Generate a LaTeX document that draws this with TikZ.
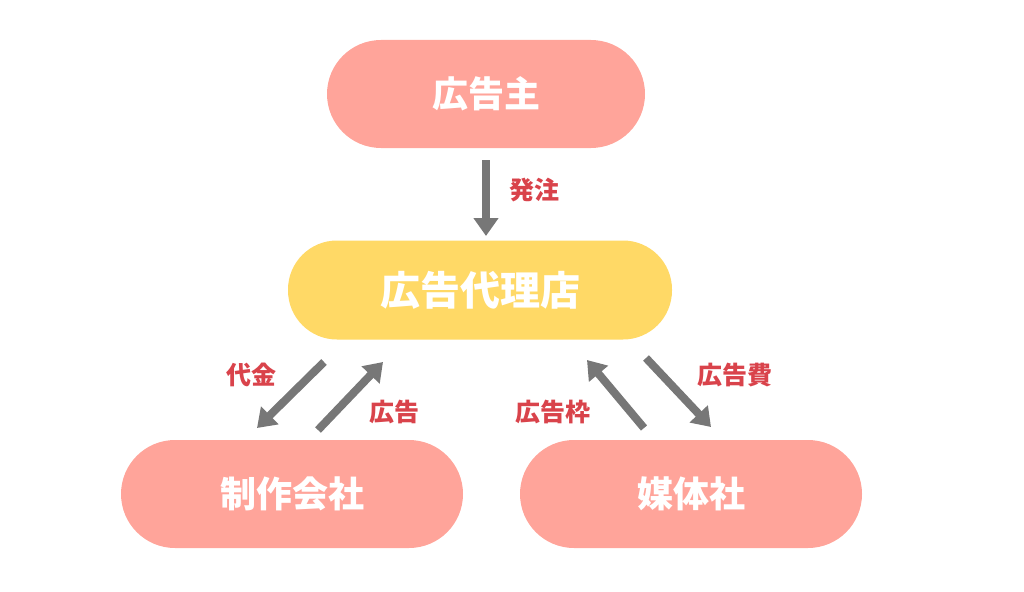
\documentclass[tikz,border=0pt]{standalone}
\usepackage{fontspec}
\setmainfont{Noto Sans CJK JP}
\usetikzlibrary{arrows.meta}
\definecolor{salmon}{HTML}{FFA49A}
\definecolor{gold}{HTML}{FFD966}
\definecolor{labelred}{HTML}{D9434B}
\definecolor{arrowgray}{HTML}{777777}

\begin{document}
\begin{tikzpicture}[x=1pt,y=-1pt]
\useasboundingbox (0,0) rectangle (1024,591);
\begin{scope}[every node/.style={fill=salmon,text=white,rounded corners=54pt,
              minimum height=108pt,font=\bfseries\fontsize{36}{36}\selectfont}]
    \node[minimum width=318pt] (client) at (486,94) {広告主};
    \node[minimum width=342pt] (prod) at (292,494) {制作会社};
    \node[minimum width=342pt] (media) at (691,494) {媒体社};
    \node[fill=gold,minimum width=384pt,minimum height=99pt,rounded corners=49pt,
          font=\bfseries\fontsize{40}{40}\selectfont] (agency) at (480,290) {広告代理店};
\end{scope}

\coordinate (o1) at (486,160);   \coordinate (o2) at (486,236);
\coordinate (p1) at (324,362);   \coordinate (p2) at (257,428);
\coordinate (a1) at (318,430);   \coordinate (a2) at (383,362);
\coordinate (f1) at (644,428);   \coordinate (f2) at (587,360);
\coordinate (c1) at (646,358);   \coordinate (c2) at (711,427);

\begin{scope}[every edge/.style={draw=arrowgray,line width=8pt,
              -{Triangle[width=24pt,length=18pt]}}]
    \path (o1) edge (o2);
    \path (p1) edge (p2);
    \path (a1) edge (a2);
    \path (f1) edge (f2);
    \path (c1) edge (c2);
\end{scope}

\begin{scope}[every node/.style={text=labelred,font=\bfseries\fontsize{25}{25}\selectfont}]
    \node (order) at (534,190) {発注};
    \node (pay) at (251,375) {代金};
    \node (ad) at (394,412) {広告};
    \node (slot) at (553,412) {広告枠};
    \node (fee) at (735,375) {広告費};
\end{scope}
\end{tikzpicture}
\end{document}
